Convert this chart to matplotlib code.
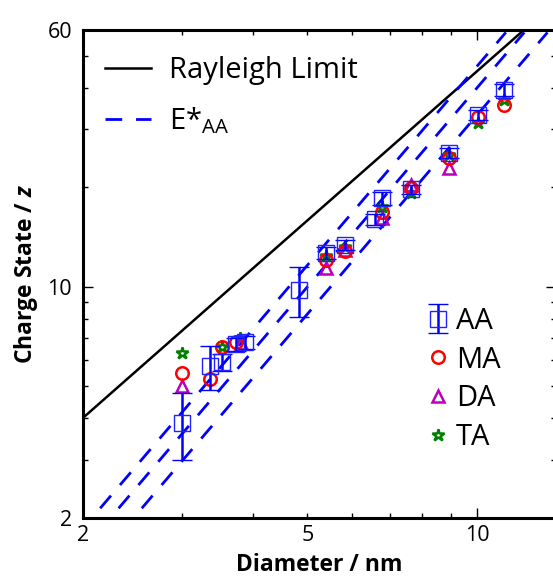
import numpy as np
import matplotlib
matplotlib.use('Agg')
import matplotlib.pyplot as plt
from matplotlib.ticker import FixedLocator, FixedFormatter

plt.rcParams['font.family'] = ['Open Sans', 'DejaVu Sans']
plt.rcParams['mathtext.fontset'] = 'custom'
plt.rcParams['mathtext.rm'] = 'Open Sans'
plt.rcParams['mathtext.it'] = 'Open Sans:italic'
plt.rcParams['mathtext.bf'] = 'Open Sans:bold'
plt.rcParams['mathtext.bfit'] = 'Open Sans:italic:bold'

## Data
# AA with error bars
aa_d = [3.0, 3.36, 3.53, 3.74, 3.88, 4.83, 5.40, 5.83, 6.59, 6.79, 7.64, 8.90, 10.03, 11.18]
aa_z = [3.88, 5.76, 5.93, 6.71, 6.80, 9.78, 12.66, 13.38, 16.0, 18.52, 19.72, 25.34, 33.1, 39.4]
aa_err = [0.88, 0.87, 0.35, 0.3, 0.3, 1.67, 0.5, 0.5, 0.6, 0.8, 0.6, 0.9, 1.2, 1.6]

ma_d = [3.0, 3.36, 3.53, 3.74, 5.40, 5.83, 6.79, 7.64, 8.90, 10.03, 11.18]
ma_z = [5.50, 5.26, 6.56, 6.80, 12.05, 12.86, 16.87, 19.9, 24.5, 32.7, 35.5]

da_d = [3.0, 3.82, 5.40, 5.83, 6.79, 7.64, 8.90]
da_z = [5.01, 6.75, 11.40, 12.9, 16.15, 20.3, 22.83]

ta_d = [3.0, 3.53, 3.79, 5.40, 5.83, 6.79, 7.64, 8.90, 10.03, 11.18]
ta_z = [6.32, 6.56, 7.0, 12.39, 13.2, 17.47, 19.2, 25.0, 31.2, 36.7]

# Rayleigh limit z = c * d^1.5, E*_AA lines z = c * d^2
rayleigh_c = 1.42
estar_c = [0.465, 0.40, 0.331]
estar_z_ends = np.array([2.14, 58.8])

fig = plt.figure(figsize=(5.53, 5.76), dpi=100)
ax = fig.add_axes([83/553, 58/576, 473/553, 488.5/576])
ax.set_xscale('log')
ax.set_yscale('log')

d_r = np.array([2.0, 14.0])
ax.plot(d_r, rayleigh_c * d_r**1.5, color='k', lw=1.8, label='Rayleigh Limit')

for i, c in enumerate(estar_c):
    d_e = np.sqrt(estar_z_ends / c)
    ax.plot(d_e, c * d_e**2, color='#0000ff', lw=2.0, dashes=(6, 5),
            label=r'E*$_{\mathrm{AA}}$' if i == 0 else None)

h_ta, = ax.plot(ta_d, ta_z, ls='none', marker='*', ms=9, mfc='none', mec='#008000',
                mew=1.8, label='TA')
h_da, = ax.plot(da_d, da_z, ls='none', marker='^', ms=9, mfc='none', mec='#bb00bb',
                mew=1.8, label='DA')
h_ma, = ax.plot(ma_d, ma_z, ls='none', marker='o', ms=9, mfc='none', mec='#ff0000',
                mew=1.8, label='MA')
h_aa = ax.errorbar(aa_d, aa_z, yerr=aa_err, ls='none', marker='s', ms=12, mfc='none',
                   mec='#2222ff', mew=1.0, ecolor='#0000ff', elinewidth=1.8,
                   capsize=7, capthick=1.4, label='AA')

ax.set_xlim(2, 13.8)
ax.set_ylim(2, 60)

# ticks
ax.xaxis.set_major_locator(FixedLocator([10]))
ax.xaxis.set_major_formatter(FixedFormatter(['10']))
ax.xaxis.set_minor_locator(FixedLocator([2, 3, 4, 5, 6, 7, 8, 9]))
ax.xaxis.set_minor_formatter(FixedFormatter(['2', '', '', '5', '', '', '', '']))
ax.yaxis.set_major_locator(FixedLocator([10]))
ax.yaxis.set_major_formatter(FixedFormatter(['10']))
ax.yaxis.set_minor_locator(FixedLocator([2, 3, 4, 5, 6, 7, 8, 9, 20, 30, 40, 50, 60]))
ax.yaxis.set_minor_formatter(FixedFormatter(['2', '', '', '', '', '', '', '', '', '', '', '', '60']))
ax.tick_params(which='both', direction='in', top=True, right=True, labelsize=15.5, width=1.0)
ax.tick_params(which='major', length=7)
ax.tick_params(which='minor', length=3.6)
ax.tick_params(axis='x', which='both', pad=5)
ax.tick_params(axis='y', which='both', pad=8)
for s in ax.spines.values():
    s.set_linewidth(2.2)

ax.set_xlabel('Diameter / nm', fontsize=16.5, fontweight='bold', labelpad=5)
ax.set_ylabel(r'Charge State / $\mathbfit{z}$', fontsize=16.5, fontweight='bold', labelpad=5)

lines = ax.get_lines()
leg1 = ax.legend(handles=[lines[0], lines[1]], loc='upper left', bbox_to_anchor=(0.046, 0.945),
                 frameon=False, fontsize=21, handlelength=1.6, handletextpad=0.6,
                 labelspacing=0.7, borderpad=0, borderaxespad=0)
ax.add_artist(leg1)
ax.legend(handles=[h_aa, h_ma, h_da, h_ta], loc='upper left', bbox_to_anchor=(0.72, 0.432),
          frameon=False, fontsize=21, handlelength=1.0, handletextpad=0.1,
          labelspacing=0.33, borderpad=0, borderaxespad=0)

fig.savefig('out.png', dpi=100)
